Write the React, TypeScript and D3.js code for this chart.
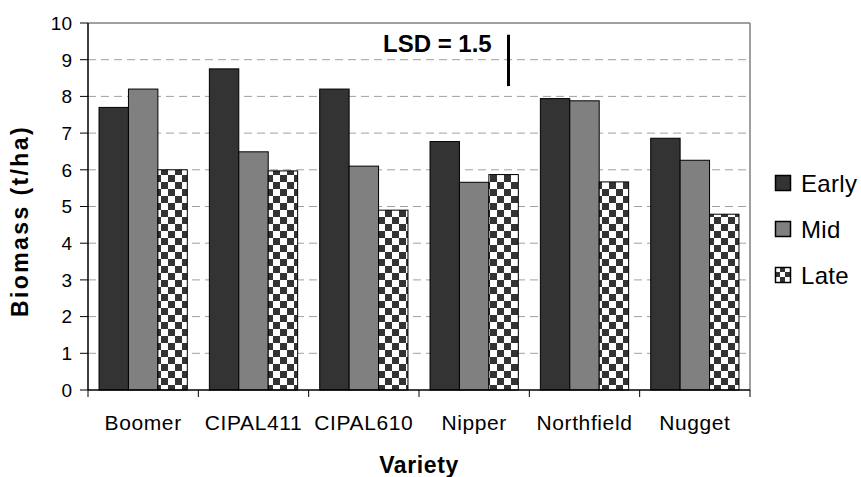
import React from "react";
import * as d3 from "d3";

const categories = ["Boomer", "CIPAL411", "CIPAL610", "Nipper", "Northfield", "Nugget"];
const seriesNames = ["Early", "Mid", "Late"];
const early = [7.7, 8.75, 8.2, 6.77, 7.94, 6.86];
const mid = [8.2, 6.49, 6.1, 5.66, 7.88, 6.26];
const late = [6.0, 5.97, 4.9, 5.87, 5.67, 4.79];
const yTicks = [0, 1, 2, 3, 4, 5, 6, 7, 8, 9, 10];
const lsdLabel = "LSD = 1.5";
const lsdRange = [8.28, 9.68];

const W = 861;
const H = 477;
const left = 88;
const right = 750;
const top = 23;
const bottom = 390;
const FONT = "'Liberation Sans', Arial, Helvetica, sans-serif";

export default function App() {
  const x = d3.scaleBand<string>().domain(categories).range([left, right]).paddingInner(0).paddingOuter(0);
  const y = d3.scaleLinear().domain([0, 10]).range([bottom, top]);
  const series = [early, mid, late];
  const fills = ["#333333", "#808080", "url(#checker)"];
  const groupW = x.bandwidth() * 0.8;
  const inner = d3.scaleBand<number>().domain([0, 1, 2]).range([0, groupW]);
  const offset = (x.bandwidth() - groupW) / 2;

  return (
    <svg width={W} height={H} style={{ position: "absolute", left: 0, top: 0, display: "block" }} fontFamily={FONT}>
      <defs>
        <pattern id="checker" patternUnits="userSpaceOnUse" width={14} height={14}>
          <rect x={0} y={0} width={14} height={14} fill="#ffffff" />
          <rect x={7} y={0} width={7} height={7} fill="#333333" />
          <rect x={0} y={7} width={7} height={7} fill="#333333" />
        </pattern>
        <pattern id="checkerSmall" patternUnits="userSpaceOnUse" x={775} y={267} width={10} height={10}>
          <rect x={0} y={0} width={10} height={10} fill="#ffffff" />
          <rect x={5} y={0} width={5} height={5} fill="#333333" />
          <rect x={0} y={5} width={5} height={5} fill="#333333" />
        </pattern>
      </defs>
      <rect x={0} y={0} width={W} height={H} fill="#ffffff" />
      {yTicks.filter((t) => t > 0 && t < 10).map((t) => (
        <line key={"g" + t} x1={left} x2={right} y1={y(t)} y2={y(t)} stroke="#a0a0a0" strokeWidth={1} strokeDasharray="8,5" />
      ))}
      <line x1={left} x2={right} y1={y(10)} y2={y(10)} stroke="#808080" strokeWidth={1.5} />
      <line x1={right} x2={right} y1={top} y2={bottom} stroke="#808080" strokeWidth={1.5} />
      {categories.map((c, i) => (
        <g key={c}>
          {series.map((s, j) => {
            const bx = (x(c) as number) + offset + (inner(j) as number);
            return (
              <rect
                key={j}
                x={bx}
                y={y(s[i])}
                width={inner.bandwidth()}
                height={y(0) - y(s[i])}
                fill={fills[j]}
                stroke="#000000"
                strokeWidth={1}
              />
            );
          })}
        </g>
      ))}
      <line x1={left} x2={left} y1={top} y2={bottom} stroke="#000000" strokeWidth={1.5} />
      <line x1={left} x2={right} y1={bottom} y2={bottom} stroke="#000000" strokeWidth={1.5} />
      {yTicks.map((t) => (
        <g key={"t" + t}>
          <line x1={left - 8} x2={left} y1={y(t)} y2={y(t)} stroke="#000000" strokeWidth={1} />
          <text x={72} y={y(t)} dy="0.36em" textAnchor="end" fontSize={19} fill="#000">
            {t}
          </text>
        </g>
      ))}
      {d3.range(categories.length + 1).map((k) => {
        const xx = left + k * x.step();
        return <line key={"xt" + k} x1={xx} x2={xx} y1={bottom} y2={bottom + 7} stroke="#000000" strokeWidth={1} />;
      })}
      {categories.map((c) => (
        <text key={"l" + c} x={(x(c) as number) + x.bandwidth() / 2} y={430} textAnchor="middle" fontSize={21} letterSpacing={0.6} fill="#000">
          {c}
        </text>
      ))}
      <text x={419} y={473} textAnchor="middle" fontSize={23} fontWeight="bold" letterSpacing={0.6} fill="#000">
        Variety
      </text>
      <text
        transform={`translate(28, ${221}) rotate(-90)`}
        textAnchor="middle"
        fontSize={23}
        fontWeight="bold"
        letterSpacing={2.4}
        fill="#000"
      >
        Biomass (t/ha)
      </text>
      <text x={383} y={52} fontSize={24} fontWeight="bold" fill="#000">
        {lsdLabel}
      </text>
      <line x1={508.5} x2={508.5} y1={y(lsdRange[1])} y2={y(lsdRange[0])} stroke="#000" strokeWidth={3} />
      {seriesNames.map((n, j) => {
        const cy = 183 + j * 46;
        return (
          <g key={n}>
            <rect
              x={775.5}
              y={cy - 7.5}
              width={15}
              height={15}
              fill={j === 2 ? "url(#checkerSmall)" : fills[j]}
              stroke="#000"
              strokeWidth={1.5}
            />
            <text x={801} y={cy} dy="0.36em" fontSize={24} letterSpacing={0.3} fill="#000">
              {n}
            </text>
          </g>
        );
      })}
    </svg>
  );
}
